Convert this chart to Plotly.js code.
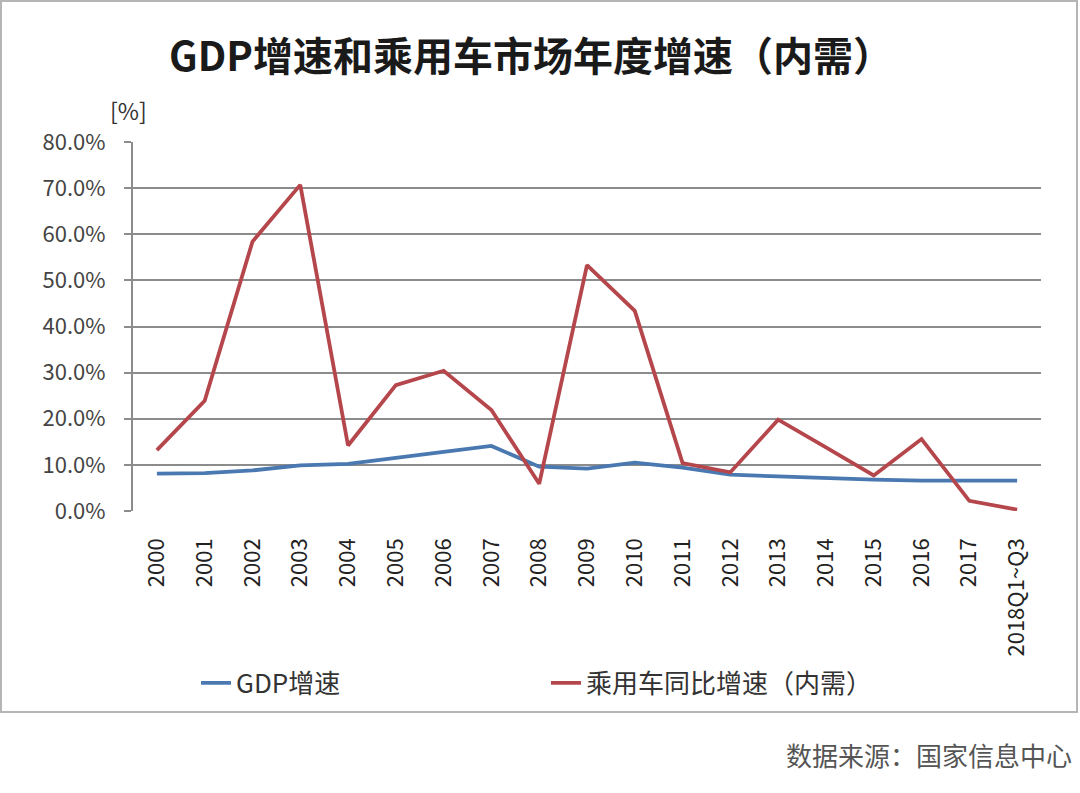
<!DOCTYPE html>
<html><head><meta charset="utf-8">
<script src="https://cdn.plot.ly/plotly-3.0.1.min.js"></script>
<style>html,body{margin:0;padding:0;background:#fff;}#c{width:1080px;height:793px;}</style>
</head><body><div id="c"></div>
<script>
const categories = ['2000','2001','2002','2003','2004','2005','2006','2007','2008','2009','2010','2011','2012','2013','2014','2015','2016','2017','2018Q1~Q3'];
const gdpGrowth = [8.1, 8.2, 8.8, 9.9, 10.2, 11.4, 12.8, 14.1, 9.6, 9.2, 10.5, 9.4, 7.9, 7.5, 7.1, 6.8, 6.6, 6.6, 6.6];
const carGrowth = [13.2, 23.9, 58.4, 70.7, 14.2, 27.3, 30.4, 21.9, 5.9, 53.3, 43.4, 10.4, 8.4, 19.8, 13.8, 7.7, 15.6, 2.2, 0.3];
const yTicks = [0, 10, 20, 30, 40, 50, 60, 70, 80];
const yTickText = yTicks.map(v => v.toFixed(1) + '%');

const W = 1080, H = 793;
const M = {l: 133, r: 39, t: 142, b: 282};
const pw = W - M.l - M.r, ph = H - M.t - M.b;
const px = x => (x - M.l) / pw;
const py = y => (H - M.b - y) / ph;
const font = '"Noto Sans CJK SC", "Noto Sans", sans-serif';

const traces = [
  {x: categories, y: gdpGrowth, type: 'scatter', mode: 'lines', name: 'GDP增速',
   line: {color: '#4A78B0', width: 3.8}},
  {x: categories, y: carGrowth, type: 'scatter', mode: 'lines', name: '乘用车同比增速（内需）',
   line: {color: '#B5474C', width: 3.8}}
];

const layout = {
  width: W, height: H,
  margin: M,
  paper_bgcolor: '#fff', plot_bgcolor: '#fff',
  font: {family: font, color: '#333'},
  title: {text: '<b>GDP增速和乘用车市场年度增速（内需）</b>', font: {size: 40, color: '#1a1a1a', family: font},
          x: 531 / W, xref: 'container', xanchor: 'center', y: 1 - 57 / H, yref: 'container', yanchor: 'middle'},
  xaxis: {type: 'category', range: [-0.5, categories.length - 0.5], tickangle: -90,
          tickfont: {size: 22, color: '#222', family: font}, showgrid: false, showline: false,
          ticks: '', ticklabelstandoff: 22, zeroline: false, fixedrange: true},
  yaxis: {range: [0, 80], tickvals: yTicks, ticktext: yTickText, tickfont: {size: 22, color: '#444', family: font},
          showgrid: true, gridcolor: '#8c8c8c', gridwidth: 2, showline: true, linecolor: '#8c8c8c', linewidth: 2,
          ticks: 'outside', ticklen: 7, tickcolor: '#8c8c8c', tickwidth: 2, ticklabelstandoff: 14,
          zeroline: false, fixedrange: true},
  showlegend: true,
  legend: {orientation: 'h', xref: 'container', yref: 'container', x: 196 / W, y: 1 - 683 / H,
           xanchor: 'left', yanchor: 'middle', entrywidth: 305, entrywidthmode: 'pixels',
           font: {size: 26, color: '#333', family: font}, bgcolor: 'rgba(0,0,0,0)'},
  shapes: [
    {type: 'rect', xref: 'paper', yref: 'paper', x0: px(1), x1: px(1077), y0: py(1), y1: py(712),
     line: {color: '#b5b5b5', width: 2}, fillcolor: 'rgba(0,0,0,0)', layer: 'below'}
  ],
  annotations: [
    {text: '[%]', xref: 'paper', yref: 'paper', x: px(128), y: py(110), xanchor: 'center', yanchor: 'middle',
     showarrow: false, font: {size: 23, color: '#333', family: font}},
    {text: '数据来源：国家信息中心', xref: 'paper', yref: 'paper', x: px(1074), y: py(754), xanchor: 'right', yanchor: 'middle',
     showarrow: false, font: {size: 26, color: '#555', family: font}}
  ]
};

Plotly.newPlot('c', traces, layout, {displayModeBar: false, staticPlot: true});
</script>
</body></html>
